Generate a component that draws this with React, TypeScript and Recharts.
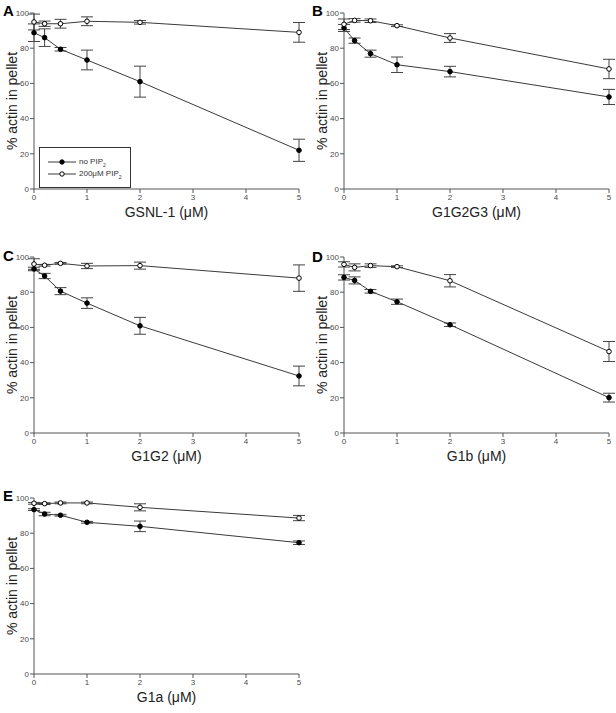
import React from 'react';
import { LineChart, Line, XAxis, YAxis, ErrorBar, Legend } from 'recharts';

const DOSES = [0, 0.2, 0.5, 1, 2, 5];
const X_TICKS = [0, 1, 2, 3, 4, 5];
const Y_TICKS = [0, 20, 40, 60, 80, 100];
const SERIES_NAMES = ['no PIP', '200μM PIP'];

const A_NO = [88.8, 86.0, 79.4, 73.3, 61.0, 22.0];
const A_NO_ERR = [5, 5, 1, 5.6, 8.8, 6.3];
const A_PIP = [94.9, 93.9, 93.9, 95.3, 94.7, 89.0];
const A_PIP_ERR = [4.5, 1.5, 2.5, 2.5, 1, 5.6];

const B_NO = [91.5, 84.3, 76.9, 70.6, 66.7, 52.3];
const B_NO_ERR = [2, 1.5, 2, 4.4, 3, 4.3];
const B_PIP = [93.6, 95.8, 95.6, 92.8, 85.8, 68.2];
const B_PIP_ERR = [3, 1, 1, 0.5, 2.5, 5.5];

const C_NO = [93.2, 89.2, 80.6, 73.8, 60.9, 32.4];
const C_NO_ERR = [1, 1.5, 2, 3, 4.8, 5.6];
const C_PIP = [96.0, 95.3, 96.4, 94.9, 95.1, 88.0];
const C_PIP_ERR = [3, 0.5, 0.5, 1.5, 2, 7.5];

const D_NO = [88.4, 86.7, 80.5, 74.6, 61.5, 20.1];
const D_NO_ERR = [1.5, 2, 1, 1.5, 1, 2.5];
const D_PIP = [95.8, 94.1, 95.1, 94.5, 86.5, 46.3];
const D_PIP_ERR = [1.5, 2, 1, 0.5, 3.5, 5.7];

const E_NO = [93.4, 90.9, 90.2, 86.2, 83.9, 74.6];
const E_NO_ERR = [0.5, 1, 0.5, 0.5, 3, 1];
const E_PIP = [97.0, 96.8, 97.2, 97.2, 94.7, 88.6];
const E_PIP_ERR = [0.5, 0.5, 0.5, 0.5, 2, 1.5];

const build = (no: number[], noErr: number[], pip: number[], pipErr: number[]) =>
  DOSES.map((x, i) => ({ x, no: no[i], noErr: noErr[i], pip: pip[i], pipErr: pipErr[i] }));

const FONT = '"Liberation Sans", Arial, sans-serif';
const AXIS = '#555';
const LINE = '#3a3a3a';

const LegendBox = () => (
  <div
    style={{
      width: 92,
      height: 41,
      boxSizing: 'border-box',
      border: '1px solid #333',
      background: '#fff',
      fontFamily: FONT,
      fontSize: 8,
      color: '#333',
      position: 'relative',
    }}
  >
    {SERIES_NAMES.map((name, i) => (
      <div key={name} style={{ position: 'absolute', left: 8, top: 8 + i * 12, height: 12, display: 'flex', alignItems: 'center' }}>
        <svg width={29} height={10} style={{ display: 'block' }}>
          <line x1={0} y1={5} x2={28} y2={5} stroke={LINE} strokeWidth={1} />
          <circle cx={14} cy={5} r={2.2} fill={i === 0 ? '#000' : '#fff'} stroke="#000" strokeWidth={1} />
        </svg>
        <span style={{ marginLeft: 2, whiteSpace: 'nowrap' }}>
          {name}
          <sub style={{ fontSize: 5 }}>2</sub>
        </span>
      </div>
    ))}
  </div>
);

type PanelProps = {
  left: number;
  top: number;
  data: any[];
  xLabel: string;
  letter: string;
  letterLeft: number;
  letterTop: number;
  legend?: boolean;
};

const Panel = ({ left, top, data, xLabel, letter, letterLeft, letterTop, legend }: PanelProps) => (
  <div style={{ position: 'absolute', left, top, width: 305, height: 230 }}>
    <LineChart width={305} height={230} data={data} margin={{ top: 13, right: 6, left: 0, bottom: 23 }}>
      <XAxis
        type="number"
        dataKey="x"
        domain={[0, 5]}
        ticks={X_TICKS}
        height={18}
        stroke={AXIS}
        tickSize={4}
        tickMargin={1}
        tick={{ fontSize: 8, fill: '#4a4a4a', fontFamily: FONT }}
        label={{ value: xLabel, position: 'bottom', offset: 0, style: { fontSize: 14, fill: '#222', fontFamily: FONT } }}
      />
      <YAxis
        type="number"
        domain={[0, 100]}
        ticks={Y_TICKS}
        width={34}
        stroke={AXIS}
        tickSize={4}
        tickMargin={1}
        tick={{ fontSize: 8, fill: '#4a4a4a', fontFamily: FONT }}
        label={{
          value: '% actin in pellet',
          angle: -90,
          position: 'insideLeft',
          offset: 12,
          style: { fontSize: 14, fill: '#222', fontFamily: FONT, textAnchor: 'middle' },
        }}
      />
      <Line
        dataKey="no"
        stroke={LINE}
        strokeWidth={1}
        isAnimationActive={false}
        dot={{ r: 2.3, fill: '#000', stroke: '#000', strokeWidth: 1 }}
        activeDot={false}
      >
        <ErrorBar dataKey="noErr" direction="y" width={6} stroke="#444" strokeWidth={1} isAnimationActive={false} />
      </Line>
      <Line
        dataKey="pip"
        stroke={LINE}
        strokeWidth={1}
        isAnimationActive={false}
        dot={{ r: 2.3, fill: '#fff', stroke: '#000', strokeWidth: 1 }}
        activeDot={false}
      >
        <ErrorBar dataKey="pipErr" direction="y" width={6} stroke="#444" strokeWidth={1} isAnimationActive={false} />
      </Line>
      {legend && (
        <Legend
          layout="horizontal"
          verticalAlign="middle"
          align="center"
          content={() => <LegendBox />}
          wrapperStyle={{ position: 'absolute', left: 39, top: 147, width: 92, height: 41 }}
        />
      )}
    </LineChart>
    <div
      style={{
        position: 'absolute',
        left: letterLeft,
        top: letterTop,
        fontFamily: FONT,
        fontWeight: 'bold',
        fontSize: 15,
        lineHeight: '15px',
        color: '#000',
      }}
    >
      {letter}
    </div>
  </div>
);

export default function App() {
  return (
    <div style={{ position: 'absolute', left: 0, top: 0, width: 616, height: 713, background: '#fff' }}>
      <Panel left={0} top={0} data={build(A_NO, A_NO_ERR, A_PIP, A_PIP_ERR)} xLabel="GSNL-1 (μM)" letter="A" letterLeft={3} letterTop={3} legend />
      <Panel left={310} top={0} data={build(B_NO, B_NO_ERR, B_PIP, B_PIP_ERR)} xLabel="G1G2G3 (μM)" letter="B" letterLeft={2} letterTop={3} />
      <Panel left={0} top={244} data={build(C_NO, C_NO_ERR, C_PIP, C_PIP_ERR)} xLabel="G1G2 (μM)" letter="C" letterLeft={3} letterTop={4} />
      <Panel left={310} top={244} data={build(D_NO, D_NO_ERR, D_PIP, D_PIP_ERR)} xLabel="G1b (μM)" letter="D" letterLeft={2} letterTop={5} />
      <Panel left={0} top={485} data={build(E_NO, E_NO_ERR, E_PIP, E_PIP_ERR)} xLabel="G1a (μM)" letter="E" letterLeft={3} letterTop={3} />
    </div>
  );
}
